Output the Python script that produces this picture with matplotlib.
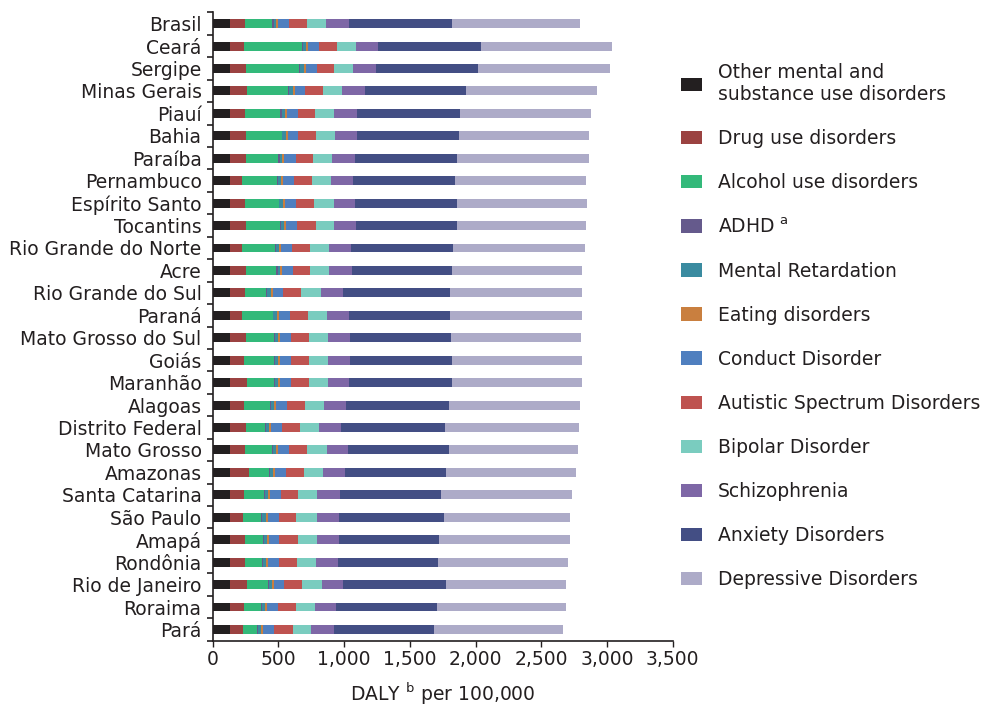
import numpy as np
import matplotlib.pyplot as plt
from matplotlib.ticker import FixedLocator

regions = ["Brasil", "Ceará", "Sergipe", "Minas Gerais", "Piauí", "Bahia", "Paraíba",
           "Pernambuco", "Espírito Santo", "Tocantins", "Rio Grande do Norte", "Acre",
           "Rio Grande do Sul", "Paraná", "Mato Grosso do Sul", "Goiás", "Maranhão",
           "Alagoas", "Distrito Federal", "Mato Grosso", "Amazonas", "Santa Catarina",
           "São Paulo", "Amapá", "Rondônia", "Rio de Janeiro", "Roraima", "Pará"]

# DALY per 100,000 (stack order left to right)
other = [128] * 28
drug = [114, 109, 122, 129, 114, 122, 122, 96, 119, 127, 96, 127, 114, 96,
        122, 107, 129, 107, 122, 114, 145, 109, 104, 119, 119, 134, 112, 101]
alcohol = [211, 439, 408, 317, 271, 274, 249, 264, 259, 259, 249, 228, 162, 233,
           218, 228, 206, 200, 145, 208, 155, 150, 132, 132, 129, 155, 124, 109]
adhd = [10, 10, 8, 10, 13, 5, 10, 8, 2, 5, 8, 10, 8, 5,
        8, 10, 10, 8, 10, 8, 8, 10, 8, 8, 5, 10, 8, 8]
mental_ret = [20, 25, 25, 25, 25, 25, 20, 23, 30, 25, 25, 20, 30, 28,
              23, 23, 23, 25, 25, 25, 25, 20, 30, 28, 25, 25, 28, 23]
eating = [13, 13, 15, 15, 15, 15, 15, 15, 15, 15, 13, 15, 15, 15,
          15, 15, 15, 15, 15, 15, 15, 15, 15, 13, 15, 15, 13, 15]
conduct = [86, 84, 84, 79, 79, 79, 86, 84, 84, 81, 84, 81, 81, 81,
           81, 84, 84, 81, 81, 81, 81, 84, 84, 79, 81, 79, 81, 79]
autistic = [137, 134, 134, 137, 134, 134, 132, 137, 137, 142, 137, 134, 137, 137,
            140, 137, 134, 137, 137, 142, 140, 134, 134, 140, 142, 137, 137, 145]
bipolar = [145, 145, 145, 145, 145, 145, 147, 145, 145, 142, 142, 145, 145, 145,
           142, 142, 145, 145, 145, 145, 142, 145, 157, 145, 142, 145, 145, 142]
schizo = [173, 173, 173, 173, 175, 170, 170, 167, 167, 167, 173, 170, 170, 170,
          167, 173, 165, 165, 167, 165, 165, 173, 167, 165, 167, 165, 165, 170]
anxiety = [781, 779, 779, 769, 779, 774, 781, 779, 774, 766, 774, 766, 819, 771,
           771, 771, 779, 784, 789, 764, 769, 766, 802, 766, 764, 779, 764, 761]
depressive = [979, 1000, 1002, 994, 1000, 994, 1000, 997, 987, 984, 1005, 989, 1000, 997,
              990, 990, 990, 997, 1020, 984, 994, 997, 956, 992, 984, 913, 982, 987]

stack = [other, drug, alcohol, adhd, mental_ret, eating, conduct,
         autistic, bipolar, schizo, anxiety, depressive]
stack_colors = ["#231f20", "#9b4241", "#33b97a", "#655a8c", "#3a8ba0", "#c97f3f",
                "#4f7fbf", "#be5350", "#7accbf", "#7e67a6", "#434e84", "#adabc8"]

legend_labels = ["Other mental and\nsubstance use disorders", "Drug use disorders",
                 "Alcohol use disorders", r"ADHD $^{\mathrm{a}}$", "Mental Retardation",
                 "Eating disorders", "Conduct Disorder", "Autistic Spectrum Disorders",
                 "Bipolar Disorder", "Schizophrenia", "Anxiety Disorders",
                 "Depressive Disorders"]

xticks = [0, 500, 1000, 1500, 2000, 2500, 3000, 3500]
xticklabels = ["0", "500", "1,000", "1,500", "2,000", "2,500", "3,000", "3,500"]

txt = "#231f20"
fs = 13.5
plt.rcParams['font.family'] = ['DejaVu Sans']
plt.rcParams['text.color'] = txt
plt.rcParams['axes.labelcolor'] = txt
plt.rcParams['xtick.color'] = txt
plt.rcParams['ytick.color'] = txt

fig = plt.figure(figsize=(9.83, 7.08), dpi=100)
ax = fig.add_axes([0.2164, 0.0951, 0.468, 0.8874])

y = np.arange(len(regions))
left = np.zeros(len(regions))
handles = []
for vals, col in zip(stack, stack_colors):
    vals = np.array(vals, dtype=float)
    b = ax.barh(y, vals, left=left, height=0.4, color=col, linewidth=0)
    handles.append(b)
    left += vals

ax.set_ylim(len(regions) - 0.5, -0.5)
ax.set_xlim(0, 3500)
ax.set_yticks(y)
ax.set_yticklabels(regions, fontsize=fs)
ax.tick_params(axis='y', length=0, pad=8)
ax.yaxis.set_minor_locator(FixedLocator(np.arange(len(regions) + 1) - 0.5))
ax.tick_params(axis='y', which='minor', length=4, width=1.2)
ax.set_xticks(xticks)
ax.set_xticklabels(xticklabels, fontsize=fs)
ax.tick_params(axis='x', length=4, width=1, pad=3)
ax.set_xlabel(r"DALY $^{\mathrm{b}}$ per 100,000", fontsize=fs, labelpad=8)

for s in ['top', 'right']:
    ax.spines[s].set_visible(False)
for s in ['left', 'bottom']:
    ax.spines[s].set_linewidth(1.2)
    ax.spines[s].set_color(txt)

fig.legend(handles, legend_labels,
           loc='upper left', bbox_to_anchor=(0.6928, 0.911), frameon=False,
           fontsize=fs, handlelength=1.12, handleheight=0.7, handletextpad=0.85,
           labelspacing=1.335, borderpad=0, borderaxespad=0)

fig.savefig("out.png", dpi=100)
